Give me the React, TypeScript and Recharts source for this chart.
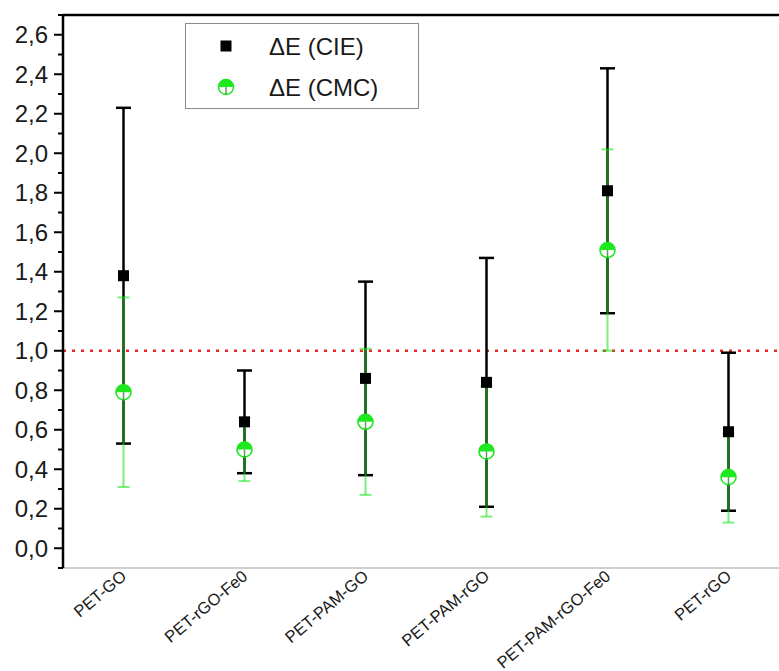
import React from 'react';
import {
  ComposedChart,
  Scatter,
  XAxis,
  YAxis,
  ErrorBar,
  ReferenceLine,
  Legend,
} from 'recharts';

const SAMPLES = ['PET-GO', 'PET-rGO-Fe0', 'PET-PAM-GO', 'PET-PAM-rGO', 'PET-PAM-rGO-Fe0', 'PET-rGO'];

// ΔE (CIE): mean with lower / upper bound of the error bar
const CIE_MEAN = [1.38, 0.64, 0.86, 0.84, 1.81, 0.59];
const CIE_LOW = [0.53, 0.38, 0.37, 0.21, 1.19, 0.19];
const CIE_HIGH = [2.23, 0.9, 1.35, 1.47, 2.43, 0.99];

// ΔE (CMC)
const CMC_MEAN = [0.79, 0.5, 0.64, 0.49, 1.51, 0.36];
const CMC_LOW = [0.31, 0.34, 0.27, 0.16, 1.0, 0.13];
const CMC_HIGH = [1.27, 0.66, 1.01, 0.82, 2.02, 0.58];

const Y_MAJOR = [0, 0.2, 0.4, 0.6, 0.8, 1.0, 1.2, 1.4, 1.6, 1.8, 2.0, 2.2, 2.4, 2.6];
const Y_MINOR = [-0.1, 0.1, 0.3, 0.5, 0.7, 0.9, 1.1, 1.3, 1.5, 1.7, 1.9, 2.1, 2.3, 2.5, 2.7];
const X_TICKS = [0, 1, 2, 3, 4, 5];

const THRESHOLD = 1.0;

const FONT = '"Liberation Sans", Arial, Helvetica, sans-serif';
const GREEN = '#1ee81e';
const TEXT = '#1a1a1a';

function toPoints(mean: number[], low: number[], high: number[]) {
  return mean.map((v, i) => ({
    x: i,
    y: v,
    err: [v - low[i], high[i] - v],
  }));
}

const cieData = toPoints(CIE_MEAN, CIE_LOW, CIE_HIGH);
const cmcData = toPoints(CMC_MEAN, CMC_LOW, CMC_HIGH);

const fmt = (v: number) => v.toFixed(1).replace('.', ',');

function YTick(props: any) {
  const { x, y, payload } = props;
  const major = Y_MAJOR.some((m) => Math.abs(m - payload.value) < 1e-6);
  return (
    <g>
      <line x1={x - (major ? 9 : 5)} x2={x} y1={y} y2={y} stroke="#000" strokeWidth={2} />
      {major && (
        <text x={x - 15} y={y} dy="0.36em" textAnchor="end" fontSize={24} fill={TEXT} fontFamily={FONT}>
          {fmt(payload.value)}
        </text>
      )}
    </g>
  );
}

function XTick(props: any) {
  const { x, y, payload } = props;
  const ax = x + 4;
  const ay = y + 10;
  return (
    <text
      x={ax}
      y={ay}
      transform={`rotate(-40 ${ax} ${ay})`}
      textAnchor="end"
      fontSize={16.5}
      fill={TEXT}
      fontFamily={FONT}
    >
      {SAMPLES[payload.value]}
    </text>
  );
}

function SquareMark(props: any) {
  const { cx, cy } = props;
  return <rect x={cx - 5.5} y={cy - 5.5} width={11} height={11} fill="#000" />;
}

function HalfCircle(props: any) {
  const { cx, cy } = props;
  const r = 7.5;
  return (
    <g>
      <circle cx={cx} cy={cy} r={r} fill="#fff" stroke={GREEN} strokeWidth={1.6} />
      <path d={`M${cx - r},${cy} A${r},${r} 0 0 1 ${cx + r},${cy} Z`} fill={GREEN} />
      <line x1={cx} x2={cx} y1={cy} y2={cy + r} stroke="rgba(20,120,20,0.7)" strokeWidth={1.5} />
    </g>
  );
}

function LegendBox() {
  return (
    <svg width={234} height={86} style={{ display: 'block', overflow: 'visible' }}>
      <rect x={0.5} y={0.5} width={233} height={85} fill="#fff" stroke="#8a8a8a" strokeWidth={1} />
      <SquareMark cx={41} cy={23} />
      <text x={84} y={23} dy="0.36em" fontSize={24} fill={TEXT} fontFamily={FONT}>
        ΔE (CIE)
      </text>
      <HalfCircle cx={41} cy={64} />
      <text x={84} y={64} dy="0.36em" fontSize={24} fill={TEXT} fontFamily={FONT}>
        ΔE (CMC)
      </text>
    </svg>
  );
}

export default function App() {
  return (
    <div
      style={{
        position: 'absolute',
        left: 0,
        top: 0,
        width: 779,
        height: 671,
        overflow: 'hidden',
        background: '#fff',
      }}
    >
      <ComposedChart width={800} height={671} margin={{ top: 15, right: 11, bottom: 0, left: 0 }}>
        <XAxis
          type="number"
          dataKey="x"
          domain={[-0.5, 5.5]}
          ticks={X_TICKS}
          interval={0}
          height={103}
          tickSize={0}
          tickMargin={0}
          tickLine={false}
          axisLine={{ stroke: '#a0a0a0', strokeWidth: 1 }}
          tick={<XTick />}
          allowDataOverflow
        />
        <YAxis
          type="number"
          dataKey="y"
          domain={[-0.1, 2.7]}
          ticks={[...Y_MINOR, ...Y_MAJOR].sort((a, b) => a - b)}
          interval={0}
          width={63}
          tickSize={0}
          tickMargin={0}
          tickLine={false}
          axisLine={{ stroke: '#000', strokeWidth: 2.5 }}
          tick={<YTick />}
          allowDataOverflow
        />
        <ReferenceLine y={2.7} stroke="#000" strokeWidth={2.5} />
        <ReferenceLine y={THRESHOLD} stroke="#e82a2a" strokeWidth={2.5} strokeDasharray="3 6" />
        <Scatter data={cieData} shape={<SquareMark />} isAnimationActive={false}>
          <ErrorBar dataKey="err" direction="y" width={7.5} stroke="#000" strokeWidth={2.5} isAnimationActive={false} />
        </Scatter>
        <Scatter data={cmcData} shape={<HalfCircle />} isAnimationActive={false}>
          <ErrorBar
            dataKey="err"
            direction="y"
            width={6}
            stroke="rgba(20,225,20,0.55)"
            strokeWidth={2}
            isAnimationActive={false}
          />
        </Scatter>
        <Legend
          layout="horizontal"
          verticalAlign="middle"
          align="center"
          wrapperStyle={{ left: 185, top: 23, width: 234, height: 86 }}
          content={() => <LegendBox />}
        />
      </ComposedChart>
    </div>
  );
}
